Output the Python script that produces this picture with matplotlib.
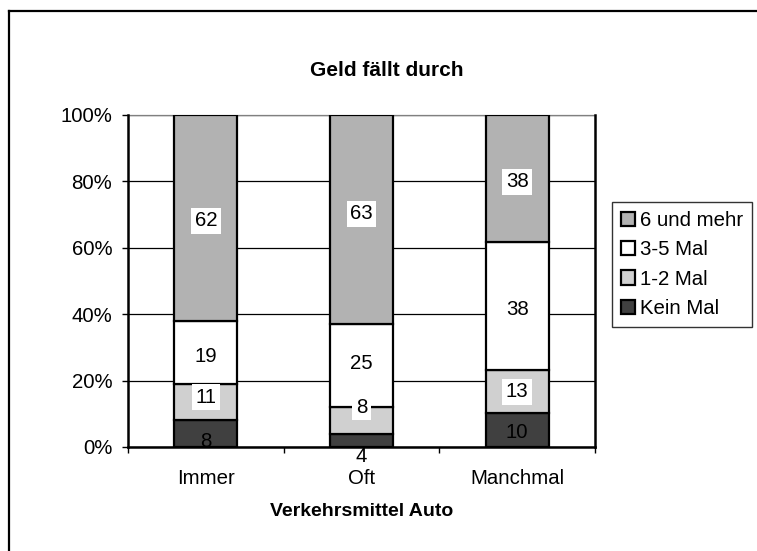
import matplotlib
matplotlib.use("Agg")
import matplotlib.pyplot as plt
import numpy as np
from matplotlib.lines import Line2D
from matplotlib.ticker import PercentFormatter

plt.rcParams['font.family'] = ['Liberation Sans', 'DejaVu Sans']

title = "Geld fällt durch"
xlabel = "Verkehrsmittel Auto"
categories = ["Immer", "Oft", "Manchmal"]
series_names = ["Kein Mal", "1-2 Mal", "3-5 Mal", "6 und mehr"]
kein_mal = [8, 4, 10]
eins_zwei = [11, 8, 13]
drei_fuenf = [19, 25, 38]
sechs_mehr = [62, 63, 38]
colors = ["#404040", "#D0D0D0", "#FFFFFF", "#B2B2B2"]

# label offsets in pixels (style only, positive = up), per series per category
label_offsets = {
    0: [(0, -8), (0, -16), (0, -2)],
    1: [(0, 5), (0, 13), (0, 0)],
    2: [(0, -4), (0, 2), (0, -3)],
    3: [(0, -3), (0, 6), (0, -3)],
}

data = np.array([kein_mal, eins_zwei, drei_fuenf, sechs_mehr], dtype=float)
pct = data / data.sum(axis=0) * 100

FS = 14.7
fig = plt.figure(figsize=(7.57, 5.51), dpi=100)
W, H = 757, 551
ax = fig.add_axes([128 / W, 1 - 447 / H, (595 - 128) / W, (447 - 115) / H])

x = np.arange(len(categories))
bottom = np.zeros(len(categories))
handles = []
for i, name in enumerate(series_names):
    bars = ax.bar(x, pct[i], bottom=bottom, width=0.405, color=colors[i],
                  edgecolor="black", linewidth=1.6, label=name, zorder=3)
    handles.append(bars)
    for j in range(len(categories)):
        yc = bottom[j] + pct[i][j] / 2
        dx, dy = label_offsets[i][j]
        if i == 0:
            bbox = None
        else:
            bbox = dict(facecolor="white", edgecolor="none", pad=2.5)
        ax.annotate(str(int(data[i][j])), (x[j], yc), xytext=(dx * 0.72, dy * 0.72),
                    textcoords="offset points", ha="center", va="center",
                    fontsize=FS, color="black", bbox=bbox, zorder=5,
                    annotation_clip=False)
    bottom += pct[i]

ax.set_xlim(-0.5, 2.5)
ax.set_ylim(0, 100)
ax.set_yticks([0, 20, 40, 60, 80, 100])
ax.yaxis.set_major_formatter(PercentFormatter(decimals=0))
ax.set_xticks(x)
ax.set_xticklabels(categories)
ax.set_xticks([-0.5, 0.5, 1.5, 2.5], minor=True)
ax.tick_params(axis="x", which="major", length=0, labelsize=FS, pad=16)
ax.tick_params(axis="x", which="minor", length=4.3, width=1, direction="out")
ax.tick_params(axis="y", length=4.3, width=1, direction="out", labelsize=FS, pad=7)
ax.yaxis.grid(True, color="black", linewidth=0.9, zorder=0)
ax.set_axisbelow(True)
for s in ["left", "bottom", "right"]:
    ax.spines[s].set_linewidth(1.8)
    ax.spines[s].set_zorder(4)
ax.spines["top"].set_linewidth(0.9)
ax.spines["top"].set_color("#808080")

fig.text(387 / W, 1 - 70 / H, title, ha="center", va="center",
         fontsize=15, fontweight="bold")
fig.text(362 / W, 1 - 512 / H, xlabel, ha="center", va="center",
         fontsize=14, fontweight="bold")

leg = fig.legend(handles=handles[::-1], labels=series_names[::-1],
                 loc="upper left", bbox_to_anchor=(612 / W, 1 - 202 / H),
                 frameon=True, fancybox=False, fontsize=FS,
                 handlelength=0.7, handleheight=0.7, handletextpad=0.2,
                 labelspacing=0.5, borderpad=0.45, borderaxespad=0)
leg.get_frame().set_edgecolor("black")
leg.get_frame().set_linewidth(1.0)
for p in leg.get_patches():
    p.set_linewidth(1.6)

# outer chart border
fig.add_artist(Line2D([9 / W, 9 / W], [0, 1 - 11 / H], color="black",
                      linewidth=1.6, transform=fig.transFigure))
fig.add_artist(Line2D([9 / W, 1], [1 - 11 / H, 1 - 11 / H], color="black",
                      linewidth=1.6, transform=fig.transFigure))

fig.savefig("out.png", dpi=100)
